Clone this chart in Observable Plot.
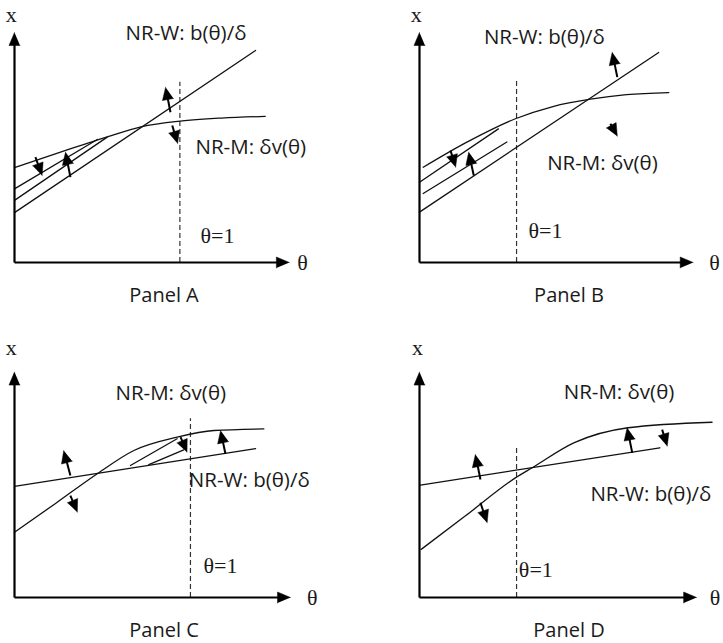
<!DOCTYPE html>
<html><head><meta charset="utf-8">
<script src="https://cdn.jsdelivr.net/npm/d3@7"></script>
<script src="https://cdn.jsdelivr.net/npm/@observablehq/plot@0.6"></script>
<style>
html,body{margin:0;padding:0;background:#fff;}
#wrap{position:relative;width:723px;height:643px;overflow:hidden;background:#fff;}
</style></head><body><div id="wrap"></div>
<script>
// ---- data (θ on the horizontal axis, x on the vertical axis, abstract units) ----
const panels = ["A", "B", "C", "D"];
const panelTitles = ["Panel A", "Panel B", "Panel C", "Panel D"];

// NR-W: b(θ)/δ  (straight lines)
const nrW = [
  {panel: "A", theta: 0, x: 2.17}, {panel: "A", theta: 10.48, x: 9.22},
  {panel: "B", theta: 0, x: 2.19}, {panel: "B", theta: 10.4, x: 9.13},
  {panel: "C", theta: 0, x: 4.83}, {panel: "C", theta: 10.48, x: 6.47},
  {panel: "D", theta: 0.04, x: 4.89}, {panel: "D", theta: 10.45, x: 6.51}
];

// NR-M: δv(θ)  (curves)
const nrM = [
  {panel: "A", theta: 0, x: 4.12}, {panel: "A", theta: 2, x: 4.8}, {panel: "A", theta: 4, x: 5.45},
  {panel: "A", theta: 5.5, x: 5.9}, {panel: "A", theta: 7.2, x: 6.15}, {panel: "A", theta: 9, x: 6.28},
  {panel: "A", theta: 10.9, x: 6.35},
  {panel: "B", theta: 0.16, x: 4.14}, {panel: "B", theta: 2, x: 5.2}, {panel: "B", theta: 4.17, x: 6.25},
  {panel: "B", theta: 5.8, x: 6.78}, {panel: "B", theta: 7.43, x: 7.1}, {panel: "B", theta: 9, x: 7.3},
  {panel: "B", theta: 10.84, x: 7.39},
  {panel: "C", theta: 0, x: 2.84}, {panel: "C", theta: 1.8, x: 4.1}, {panel: "C", theta: 3.6, x: 5.38},
  {panel: "C", theta: 5.19, x: 6.39}, {panel: "C", theta: 7.07, x: 6.97}, {panel: "C", theta: 8.67, x: 7.26},
  {panel: "C", theta: 10.84, x: 7.33},
  {panel: "D", theta: 0.07, x: 2.09}, {panel: "D", theta: 2, x: 3.55}, {panel: "D", theta: 4.17, x: 5.2},
  {panel: "D", theta: 4.9, x: 5.64}, {panel: "D", theta: 6.73, x: 6.73}, {panel: "D", theta: 9.07, x: 7.38},
  {panel: "D", theta: 12.72, x: 7.62}
];

// adjustment paths between the two curves
const paths = [
  {panel: "A", id: "A1", theta: 0, x: 3.2}, {panel: "A", id: "A1", theta: 3.6, x: 5.35},
  {panel: "A", id: "A2", theta: 0, x: 2.7}, {panel: "A", id: "A2", theta: 4.03, x: 5.45},
  {panel: "B", id: "B1", theta: 0, x: 3.49}, {panel: "B", id: "B1", theta: 3.43, x: 5.81},
  {panel: "B", id: "B2", theta: 0.16, x: 3.0}, {panel: "B", id: "B2", theta: 3.8, x: 5.24},
  {panel: "C", id: "C1", theta: 5.04, x: 5.74}, {panel: "C", id: "C1", theta: 7.07, x: 6.9},
  {panel: "C", id: "C2", theta: 5.84, x: 5.78}, {panel: "C", id: "C2", theta: 7.36, x: 6.42}
];

// direction arrows: from (t1,x1) to (t2,x2)
const arrows = [
  {panel: "A", t1: 0.91, x1: 4.58, t2: 1.2, x2: 3.78},
  {panel: "A", t1: 2.43, x1: 3.71, t2: 2.22, x2: 4.8},
  {panel: "A", t1: 6.78, x1: 6.53, t2: 6.57, x2: 7.62},
  {panel: "A", t1: 6.86, x1: 5.96, t2: 7.09, x2: 5.17},
  {panel: "B", t1: 1.35, x1: 4.87, t2: 1.57, x2: 4.14},
  {panel: "B", t1: 2.36, x1: 3.78, t2: 2.14, x2: 4.8},
  {panel: "B", t1: 8.3, x1: 6.03, t2: 8.6, x2: 5.49},
  {panel: "B", t1: 8.6, x1: 8.06, t2: 8.38, x2: 9.14},
  {panel: "C", t1: 2.43, x1: 5.3, t2: 2.14, x2: 6.39},
  {panel: "C", t1: 2.43, x1: 4.43, t2: 2.73, x2: 3.71},
  {panel: "C", t1: 9.17, x1: 6.25, t2: 8.96, x2: 7.26},
  {panel: "C", t1: 7.22, x1: 6.97, t2: 7.5, x2: 6.32},
  {panel: "D", t1: 2.65, x1: 5.13, t2: 2.43, x2: 6.22},
  {panel: "D", t1: 2.65, x1: 4.12, t2: 2.94, x2: 3.25},
  {panel: "D", t1: 9.25, x1: 6.29, t2: 9.03, x2: 7.38},
  {panel: "D", t1: 10.55, x1: 7.3, t2: 10.77, x2: 6.58}
];

// θ = 1 dashed markers
const thetaOne = [
  {panel: "A", theta: 7.19, top: 7.84},
  {panel: "B", theta: 4.22, top: 7.91},
  {panel: "C", theta: 7.65, top: 7.77},
  {panel: "D", theta: 4.22, top: 6.51}
];

// curve labels (sans)
const curveLabels = [
  {panel: "A", theta: 4.83, x: 9.96, text: "NR-W: b(θ)/δ"},
  {panel: "A", theta: 7.87, x: 5.0, text: "NR-M: δv(θ)"},
  {panel: "B", theta: 2.8, x: 9.8, text: "NR-W: b(θ)/δ"},
  {panel: "B", theta: 5.55, x: 4.3, text: "NR-M: δv(θ)"},
  {panel: "C", theta: 4.39, x: 8.86, text: "NR-M: δv(θ)"},
  {panel: "C", theta: 7.58, x: 5.09, text: "NR-W: b(θ)/δ"},
  {panel: "D", theta: 6.27, x: 8.9, text: "NR-M: δv(θ)"},
  {panel: "D", theta: 7.43, x: 4.48, text: "NR-W: b(θ)/δ"}
];

// serif labels: θ=1 and axis names
const mathLabels = [
  {panel: "A", theta: 8.09, x: 1.17, text: "θ=1"},
  {panel: "B", theta: 4.74, x: 1.39, text: "θ=1"},
  {panel: "C", theta: 8.22, x: 1.39, text: "θ=1"},
  {panel: "D", theta: 4.32, x: 1.18, text: "θ=1"},
  {panel: "A", theta: 12.29, x: 0, text: "θ"},
  {panel: "B", theta: 12.6, x: 0, text: "θ"},
  {panel: "C", theta: 12.72, x: 0, text: "θ"},
  {panel: "D", theta: 12.62, x: 0, text: "θ"},
  {panel: "A", theta: -0.38, x: 10.75, text: "x"},
  {panel: "B", theta: -0.38, x: 10.75, text: "x"},
  {panel: "C", theta: -0.38, x: 10.85, text: "x"},
  {panel: "D", theta: -0.33, x: 10.85, text: "x"}
];

// axis extents (tip of the arrows)
const axisEnds = [
  {panel: "A", thetaMax: 11.95, xMax: 10},
  {panel: "B", thetaMax: 11.9, xMax: 10},
  {panel: "C", thetaMax: 12.0, xMax: 9.8},
  {panel: "D", thetaMax: 12.05, xMax: 9.8}
];

// ---- drawing ----
const UNIT = 23; // px per unit
function headPoly(id, t1, x1, t2, x2, L, W) {
  const dx = t2 - t1, dy = x2 - x1, len = Math.hypot(dx, dy);
  const ux = dx / len, uy = dy / len, px = -uy, py = ux;
  const bx = t2 - ux * L, by = x2 - uy * L;
  return [
    {id, theta: t2, x: x2},
    {id, theta: bx + px * W, x: by + py * W},
    {id, theta: bx - px * W, x: by - py * W}
  ];
}

const wrap = document.getElementById("wrap");
panels.forEach((p, i) => {
  const col = i % 2, row = Math.floor(i / 2);
  const ax = axisEnds.find(d => d.panel === p);
  const arr = arrows.filter(d => d.panel === p);
  const heads = arr.flatMap((d, k) => headPoly("h" + k, d.t1, d.x1, d.t2, d.x2, 12.5 / UNIT, 5.6 / UNIT));
  const shafts = arr.map(d => {
    const L = 7 / UNIT, dx = d.t2 - d.t1, dy = d.x2 - d.x1, len = Math.hypot(dx, dy);
    return {t1: d.t1, x1: d.x1, t2: d.t2 - dx / len * L, x2: d.x2 - dy / len * L};
  });
  const axisLines = [
    {t1: 0, x1: 0, t2: ax.thetaMax - 10 / UNIT, x2: 0},
    {t1: 0, x1: 0, t2: 0, x2: ax.xMax - 10 / UNIT}
  ];
  const axisHeads = [
    ...headPoly("ax", 0, 0, ax.thetaMax, 0, 13 / UNIT, 5.5 / UNIT),
    ...headPoly("ay", 0, 0, 0, ax.xMax, 13 / UNIT, 5.5 / UNIT)
  ];
  const chart = Plot.plot({
    width: 318,
    height: 308,
    margin: 0,
    x: {domain: [0, 12], range: [14, 14 + 12 * UNIT], axis: null},
    y: {domain: [0, 10], range: [262, 262 - 10 * UNIT], axis: null},
    style: {background: "white", overflow: "hidden"},
    marks: [
      Plot.ruleX(thetaOne.filter(d => d.panel === p), {x: "theta", y1: 0, y2: "top", stroke: "#333", strokeWidth: 1.2, strokeDasharray: "5,3"}),
      Plot.line(nrW.filter(d => d.panel === p), {x: "theta", y: "x", stroke: "#111", strokeWidth: 1.3}),
      Plot.line(nrM.filter(d => d.panel === p), {x: "theta", y: "x", stroke: "#111", strokeWidth: 1.3, curve: "monotone-x"}),
      Plot.line(paths.filter(d => d.panel === p), {x: "theta", y: "x", z: "id", stroke: "#111", strokeWidth: 1.3}),
      Plot.link(shafts, {x1: "t1", y1: "x1", x2: "t2", y2: "x2", stroke: "#000", strokeWidth: 2}),
      Plot.line(heads, {x: "theta", y: "x", z: "id", fill: "#000", stroke: "#000", strokeWidth: 0.5}),
      Plot.link(axisLines, {x1: "t1", y1: "x1", x2: "t2", y2: "x2", stroke: "#000", strokeWidth: 2.2}),
      Plot.line(axisHeads, {x: "theta", y: "x", z: "id", fill: "#000", stroke: "#000", strokeWidth: 0.5}),
      Plot.text(curveLabels.filter(d => d.panel === p), {x: "theta", y: "x", text: "text", textAnchor: "start", fontFamily: "Open Sans", fontSize: 20.5, fill: "#1a1a1a"}),
      Plot.text(mathLabels.filter(d => d.panel === p), {x: "theta", y: "x", text: "text", textAnchor: "start", fontFamily: "Liberation Serif", fontSize: 22, fill: "#1a1a1a"}),
      Plot.text([panelTitles[i]], {x: 6.5, y: -1.45, text: d => d, textAnchor: "middle", fontFamily: "Open Sans", fontSize: 20, fill: "#1a1a1a"})
    ]
  });
  chart.style.position = "absolute";
  chart.style.left = (col * 405) + "px";
  chart.style.top = (row * 335) + "px";
  wrap.appendChild(chart);
});
</script>
</body></html>
